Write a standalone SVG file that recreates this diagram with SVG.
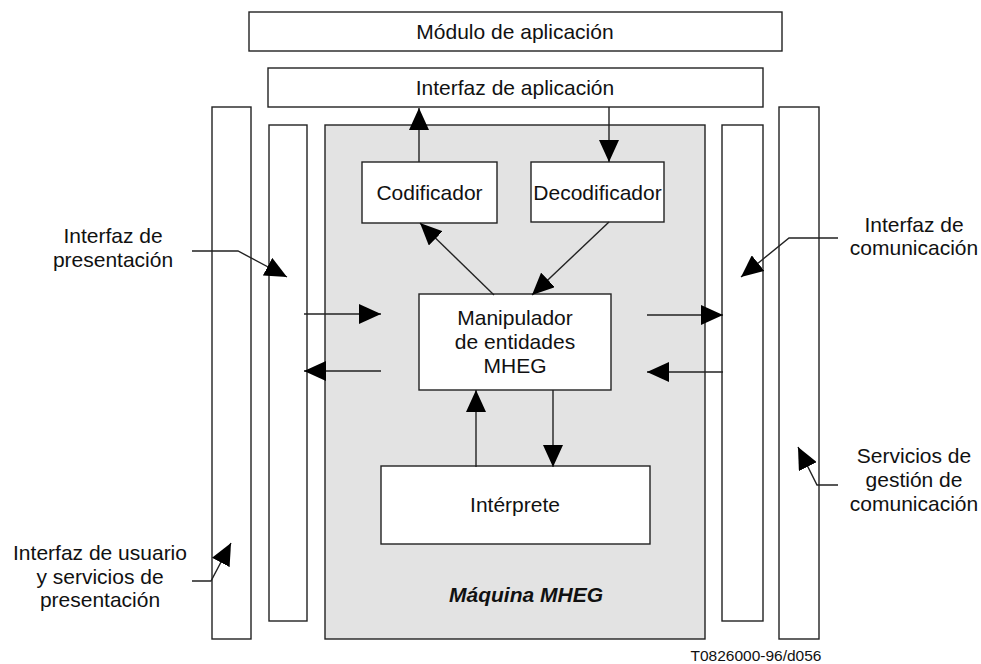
<svg xmlns="http://www.w3.org/2000/svg" width="981" height="664" viewBox="0 0 981 664">
  <style>
    .box { fill: #ffffff; stroke: #222222; stroke-width: 1.4; }
    .engine { fill: #e3e3e3; stroke: #222222; stroke-width: 1.4; }
    .lbl { font-family: "Liberation Sans", Arial, sans-serif; font-size: 21px; fill: #111111; text-anchor: middle; }
    .title { font-weight: bold; font-style: italic; }
    .ref { font-size: 15.5px; }
    .wire { fill: none; stroke: #222222; stroke-width: 1.4; marker-end: url(#head); }
  </style>
  <defs>
    <marker id="head" markerUnits="userSpaceOnUse" markerWidth="22" markerHeight="20" refX="22" refY="10" orient="auto">
      <path d="M0,0 L22,10 L0,20 z" fill="#000000"/>
    </marker>
  </defs>
  <rect width="981" height="664" fill="#ffffff"/>

  <!-- Application layer -->
  <g id="modulo-aplicacion">
    <rect class="box" x="249" y="12" width="533" height="39"/>
    <text class="lbl" x="515" y="38.5">Módulo de aplicación</text>
  </g>
  <g id="interfaz-aplicacion">
    <rect class="box" x="268" y="68" width="495" height="39"/>
    <text class="lbl" x="515" y="94.5">Interfaz de aplicación</text>
  </g>

  <!-- Side columns -->
  <g id="servicios-presentacion">
    <rect class="box" x="212" y="107" width="39" height="532"/>
  </g>
  <g id="interfaz-presentacion">
    <rect class="box" x="269" y="125" width="38" height="496"/>
  </g>
  <g id="interfaz-comunicacion">
    <rect class="box" x="722" y="125" width="41" height="496"/>
  </g>
  <g id="servicios-comunicacion">
    <rect class="box" x="779" y="107" width="40" height="532"/>
  </g>

  <!-- MHEG engine -->
  <g id="maquina-mheg">
    <rect class="engine" x="325" y="125" width="380" height="514"/>
    <text class="lbl title" x="526" y="602">Máquina MHEG</text>
  </g>
  <g id="codificador">
    <rect class="box" x="362" y="162" width="135" height="61"/>
    <text class="lbl" x="429.5" y="200">Codificador</text>
  </g>
  <g id="decodificador">
    <rect class="box" x="531" y="162" width="133" height="60"/>
    <text class="lbl" x="597.5" y="200">Decodificador</text>
  </g>
  <g id="manipulador">
    <rect class="box" x="419" y="294" width="192" height="96"/>
    <text class="lbl" x="515" y="325">Manipulador</text>
    <text class="lbl" x="515" y="349">de entidades</text>
    <text class="lbl" x="515" y="373">MHEG</text>
  </g>
  <g id="interprete">
    <rect class="box" x="381" y="466" width="269" height="78"/>
    <text class="lbl" x="515" y="512">Intérprete</text>
  </g>

  <!-- Callout labels -->
  <g id="label-presentacion">
    <text class="lbl" x="113" y="243">Interfaz de</text>
    <text class="lbl" x="113" y="267">presentación</text>
  </g>
  <g id="label-usuario">
    <text class="lbl" x="100" y="560">Interfaz de usuario</text>
    <text class="lbl" x="100" y="584">y servicios de</text>
    <text class="lbl" x="100" y="607">presentación</text>
  </g>
  <g id="label-comunicacion">
    <text class="lbl" x="914" y="232">Interfaz de</text>
    <text class="lbl" x="914" y="255">comunicación</text>
  </g>
  <g id="label-gestion">
    <text class="lbl" x="914" y="463">Servicios de</text>
    <text class="lbl" x="914" y="487">gestión de</text>
    <text class="lbl" x="914" y="511">comunicación</text>
  </g>
  <text class="lbl ref" x="756" y="661">T0826000-96/d056</text>

  <!-- Connectors -->
  <g id="connectors">
    <path class="wire" d="M419,162 L419,108"/>
    <path class="wire" d="M609,107 L609,162"/>
    <path class="wire" d="M494,295 L420,223"/>
    <path class="wire" d="M609,222 L532,295"/>
    <path class="wire" d="M304,314 L381,314"/>
    <path class="wire" d="M381,371 L304,371"/>
    <path class="wire" d="M647,315 L723,315"/>
    <path class="wire" d="M723,372 L647,372"/>
    <path class="wire" d="M476,467 L476,390"/>
    <path class="wire" d="M553,390 L553,467"/>
    <!-- callout leaders -->
    <path class="wire" d="M192,251 L238,251 L287,277"/>
    <path class="wire" d="M838,238 L789,238 L741,277"/>
    <path class="wire" d="M192,581 L211,581 L231,543"/>
    <path class="wire" d="M838,485 L817,485 L798,447"/>
  </g>
</svg>
